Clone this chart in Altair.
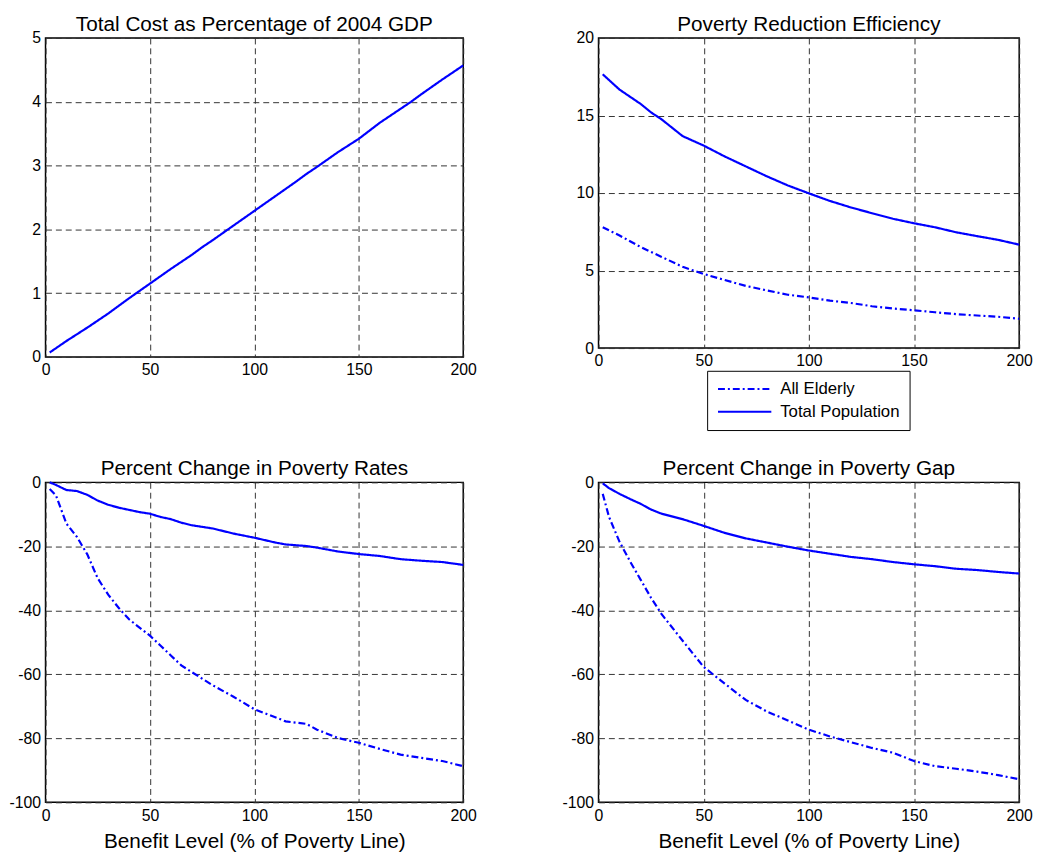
import altair as alt
import pandas as pd

BLUE = "#0000ff"
FONT = "Liberation Sans"

# Panel 1: Total Cost as Percentage of 2004 GDP
cost_x = [2, 10, 20, 25, 30, 40, 50, 60, 70, 75, 80, 90, 100, 110, 120, 125, 130,
          140, 150, 160, 170, 175, 180, 190, 200]
cost_y = [0.07, 0.25, 0.46, 0.57, 0.68, 0.92, 1.15, 1.38, 1.60, 1.72, 1.83, 2.06, 2.29,
          2.52, 2.75, 2.87, 2.98, 3.21, 3.42, 3.67, 3.89, 4.00, 4.12, 4.35, 4.57]

# Panel 2: Poverty Reduction Efficiency
eff_x = [2, 10, 20, 25, 30, 40, 50, 60, 70, 80, 90, 100, 110, 120, 130, 140, 150,
         160, 170, 180, 190, 200]
eff_total = [17.66, 16.67, 15.75, 15.2, 14.75, 13.67, 13.06, 12.36, 11.72, 11.08, 10.49,
             9.98, 9.49, 9.07, 8.70, 8.34, 8.05, 7.79, 7.47, 7.22, 6.98, 6.67]
eff_elderly = [7.79, 7.26, 6.52, 6.2, 5.88, 5.24, 4.78, 4.39, 4.01, 3.72, 3.44, 3.27,
               3.06, 2.91, 2.70, 2.55, 2.44, 2.31, 2.19, 2.10, 2.02, 1.89]

# Panel 3: Percent Change in Poverty Rates
rate_x = [2, 5, 10, 15, 20, 25, 30, 35, 40, 45, 50, 55, 60, 65, 70, 80, 90, 100, 110,
          115, 125, 130, 140, 150, 160, 170, 180, 190, 200]
rate_total = [0, -0.8, -2.4, -2.7, -3.9, -5.7, -7.0, -7.9, -8.6, -9.3, -9.8, -10.8, -11.5,
              -12.6, -13.4, -14.4, -16.0, -17.3, -18.8, -19.4, -19.9, -20.4, -21.6, -22.4,
              -23.0, -24.0, -24.5, -24.9, -25.8]
rate_elderly = [-2.1, -4.1, -12.9, -17.0, -22.5, -30.0, -35.1, -39.2, -42.8, -45.4, -47.9,
                -51.0, -54.1, -57.2, -59.3, -63.4, -67.0, -70.9, -73.4, -74.7, -75.5,
                -77.3, -79.9, -81.4, -83.3, -85.1, -86.1, -87.1, -88.7]

# Panel 4: Percent Change in Poverty Gap
gap_x = [2, 5, 10, 15, 20, 25, 30, 40, 50, 60, 70, 80, 90, 100, 110, 120, 130, 140, 150,
         160, 170, 180, 190, 200]
gap_total = [-0.3, -1.8, -3.6, -5.2, -6.7, -8.5, -9.8, -11.5, -13.6, -15.8, -17.5, -18.8,
             -20.1, -21.3, -22.3, -23.3, -24.0, -24.9, -25.6, -26.2, -27.0, -27.4, -28.0,
             -28.5]
gap_elderly = [-3.6, -10.8, -18.6, -24.7, -30.4, -36.1, -41.2, -49.5, -57.7, -62.9, -68.0,
               -71.6, -74.4, -77.3, -79.4, -81.2, -83.0, -84.5, -87.1, -88.7, -89.5, -90.4,
               -91.5, -92.8]

SERIES = ["All Elderly", "Total Population"]
X_TICKS = [0, 50, 100, 150, 200]


def frame(xs, pairs):
    rows = []
    for name, ys in pairs:
        for xv, yv in zip(xs, ys):
            rows.append({"x": xv, "y": yv, "series": name})
    return pd.DataFrame(rows)


dash_scale = alt.Scale(domain=SERIES, range=[[7, 3, 2, 3], [1, 0]])


def panel(df, title, ydom, yticks, w, h, xtitle=None, legend=None):
    return (
        alt.Chart(df)
        .mark_line(color=BLUE, strokeWidth=2.2)
        .encode(
            x=alt.X("x:Q", scale=alt.Scale(domain=[0, 200], nice=False, zero=False),
                    axis=alt.Axis(values=X_TICKS, title=xtitle, labelFlush=False)),
            y=alt.Y("y:Q", scale=alt.Scale(domain=ydom, nice=False, zero=False),
                    axis=alt.Axis(values=yticks, title=None, labelFlush=False,
                                  labelExpr="'' + datum.value")),
            strokeDash=alt.StrokeDash("series:N", scale=dash_scale, legend=legend),
            detail="series:N",
        )
        .properties(
            width=w, height=h,
            title=alt.TitleParams(text=title, fontSize=21, font=FONT, fontWeight="normal",
                                  color="black", offset=-5, anchor="middle"),
        )
    )


legend = alt.Legend(
    title=None, orient="none", legendX=110, legendY=337, direction="vertical",
    padding=10, strokeColor="black", fillColor="white", symbolType="stroke",
    symbolSize=2916, symbolStrokeWidth=2, symbolStrokeColor=BLUE, clipHeight=17,
    labelFont=FONT, labelFontSize=17, labelOffset=8, rowPadding=5, labelColor="black",
)

p1 = panel(frame(cost_x, [("Total Population", cost_y)]),
           "Total Cost as Percentage of 2004 GDP", [0, 5], [0, 1, 2, 3, 4, 5], 423, 323)
p2 = panel(frame(eff_x, [("All Elderly", eff_elderly), ("Total Population", eff_total)]),
           "Poverty Reduction Efficiency", [0, 20], [0, 5, 10, 15, 20], 426, 314,
           legend=legend)
p3 = panel(frame(rate_x, [("All Elderly", rate_elderly), ("Total Population", rate_total)]),
           "Percent Change in Poverty Rates", [-100, 0], [-100, -80, -60, -40, -20, 0],
           423, 324, xtitle="Benefit Level (% of Poverty Line)")
p4 = panel(frame(gap_x, [("All Elderly", gap_elderly), ("Total Population", gap_total)]),
           "Percent Change in Poverty Gap", [-100, 0], [-100, -80, -60, -40, -20, 0],
           426, 324, xtitle="Benefit Level (% of Poverty Line)")

chart = (
    alt.concat(p1, p2, p3, p4, columns=2, spacing={"row": 26, "column": 84})
    .resolve_scale(strokeDash="independent")
    .resolve_legend(strokeDash="independent")
    .properties(padding=0, background="white")
    .configure_axis(
        labelFont=FONT, labelFontSize=16, labelColor="black", labelPadding=5,
        grid=True, gridDash=[6, 4], gridColor="#333333", gridWidth=1, gridOpacity=1,
        domain=False, ticks=False,
        titleFont=FONT, titleFontSize=21, titleFontWeight="normal", titleColor="black",
        titlePadding=8,
    )
    .configure_view(stroke="black", strokeWidth=1.5)
)

chart.save("out.html", embed_options={"renderer": "svg", "actions": False})
